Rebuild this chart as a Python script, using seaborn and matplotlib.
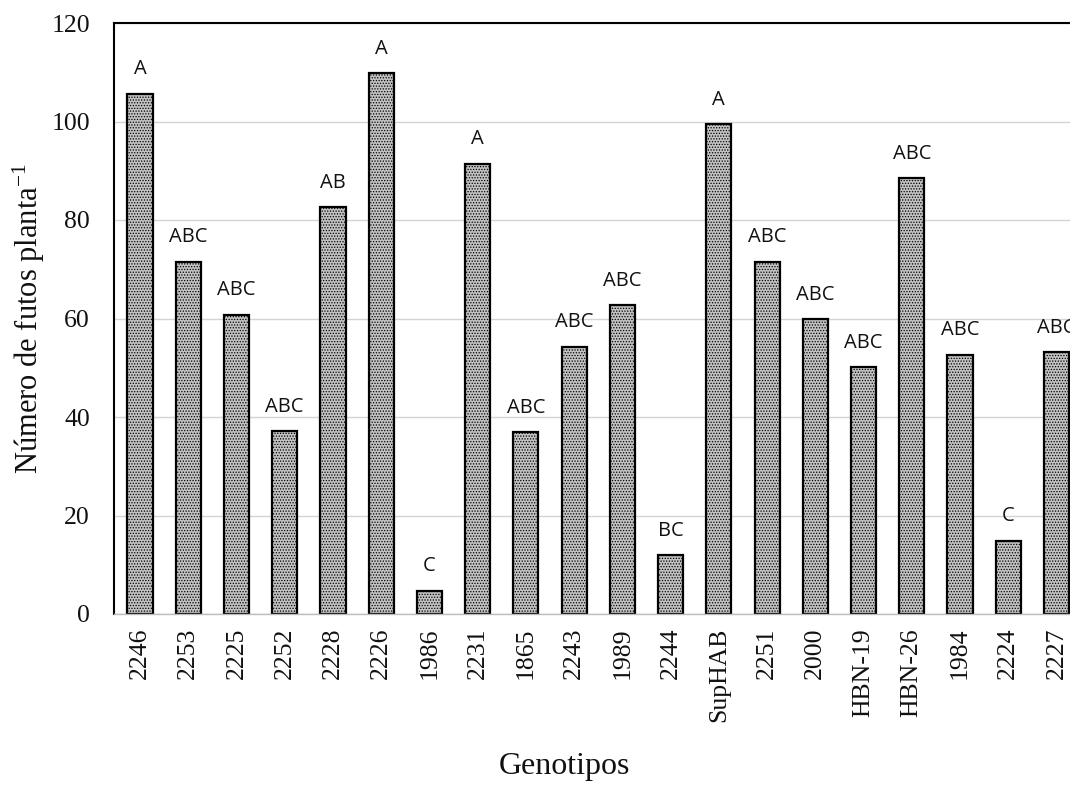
import matplotlib
matplotlib.use("Agg")
import matplotlib.pyplot as plt
import seaborn as sns
import pandas as pd

# Mean number of fruits per plant for each genotype, with Tukey groupings
genotypes = ["2246", "2253", "2225", "2252", "2228", "2226", "1986", "2231",
             "1865", "2243", "1989", "2244", "SupHAB", "2251", "2000",
             "HBN-19", "HBN-26", "1984", "2224", "2227"]
fruits = [105.6, 71.5, 60.7, 37.1, 82.6, 109.8, 4.7, 91.4,
          36.9, 54.2, 62.7, 11.9, 99.4, 71.5, 59.8,
          50.1, 88.5, 52.6, 14.9, 53.1]
groups = ["A", "ABC", "ABC", "ABC", "AB", "A", "C", "A",
          "ABC", "ABC", "ABC", "BC", "A", "ABC", "ABC",
          "ABC", "ABC", "ABC", "C", "ABC"]
y_ticks = [0, 20, 40, 60, 80, 100, 120]

df = pd.DataFrame({"Genotipo": genotypes, "Frutos": fruits, "Grupo": groups})

sns.set_theme(style="white")
plt.rcParams["font.family"] = ["Liberation Serif", "DejaVu Serif"]
plt.rcParams["mathtext.fontset"] = "stix"
plt.rcParams["hatch.color"] = "#8f8f8f"
plt.rcParams["hatch.linewidth"] = 0.6

fig = plt.figure(figsize=(10.7, 7.85), dpi=100)
ax = fig.add_axes([113.5 / 1070, 171 / 785, (1083 - 113.5) / 1070, 591 / 785])

sns.barplot(data=df, x="Genotipo", y="Frutos", order=genotypes,
            color="#c2c2c2", saturation=1, edgecolor="black",
            linewidth=1.6, width=0.52, errorbar=None, ax=ax)
for bar in ax.patches:
    bar.set_hatch("......")

for i, (v, g) in enumerate(zip(fruits, groups)):
    ax.annotate(g, xy=(i, v), xytext=(0, 10.5), textcoords="offset points",
                ha="center", va="bottom", fontsize=14.5,
                family=["Open Sans", "DejaVu Sans"], color="#111111",
                annotation_clip=False)

ax.set_xlim(-0.55, 19.55)
ax.set_ylim(0, 120)
ax.set_yticks(y_ticks)
ax.set_yticklabels([str(t) for t in y_ticks])
ax.yaxis.grid(True, color="#d4d4d4", linewidth=1.0)
ax.set_axisbelow(True)

ax.tick_params(axis="y", length=0, pad=17, labelsize=18.5, colors="#111111")
ax.tick_params(axis="x", length=0, pad=10, labelsize=18.5, colors="#111111")
plt.setp(ax.get_xticklabels(), rotation=90, va="top", ha="center")

for side in ["left", "top"]:
    ax.spines[side].set_visible(True)
    ax.spines[side].set_color("black")
    ax.spines[side].set_linewidth(1.5)
ax.spines["bottom"].set_color("#bdbdbd")
ax.spines["bottom"].set_linewidth(1.0)
ax.spines["right"].set_visible(False)

ax.set_ylabel("Número de futos planta$^{\\mathregular{-1}}$", fontsize=22,
              labelpad=3, color="#111111")
ax.set_xlabel("Genotipos", fontsize=23, color="#111111", va="top")
ax.xaxis.set_label_coords((564.5 - 113.5) / (1083 - 113.5), (614 - 752) / 591)

fig.savefig("out.png", dpi=100, facecolor="white")
